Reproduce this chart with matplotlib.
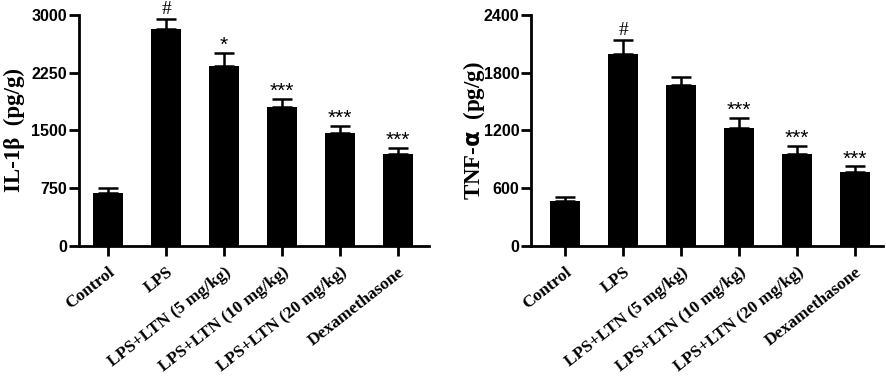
import numpy as np
import matplotlib
matplotlib.use("Agg")
import matplotlib.pyplot as plt

groups = ["Control", "LPS", "LPS+LTN (5 mg/kg)", "LPS+LTN (10 mg/kg)",
          "LPS+LTN (20 mg/kg)", "Dexamethasone"]

il1b_mean = [690, 2820, 2340, 1800, 1465, 1200]
il1b_err = [65, 130, 170, 110, 95, 75]
il1b_marks = ["", "#", "*", "***", "***", "***"]
il1b_ticks = [0, 750, 1500, 2250, 3000]

tnf_mean = [470, 1990, 1670, 1225, 960, 765]
tnf_err = [42, 150, 90, 105, 80, 62]
tnf_marks = ["", "#", "", "***", "***", "***"]
tnf_ticks = [0, 600, 1200, 1800, 2400]

SANS = "Liberation Sans"
SERIF = "Liberation Serif"


def draw_panel(ax, means, errs, marks, ticks, ylabel, xlim, label_x):
    x = np.arange(len(groups))
    ax.bar(x, means, width=0.51, color="black", zorder=2)
    ax.errorbar(x, means, yerr=[np.zeros(len(errs)), errs], fmt="none",
                ecolor="black", elinewidth=1.8, capsize=7, capthick=1.8, zorder=1)
    top = ticks[-1]
    for xi, m, e, s in zip(x, means, errs, marks):
        if not s:
            continue
        if s == "#":
            ax.text(xi, m + e + top * 0.004, s, ha="center", va="bottom",
                    fontsize=14, family=SERIF, zorder=3)
        else:
            ax.text(xi, m + e - top * 0.01, s, ha="center", va="bottom",
                    fontsize=15, family=SANS, zorder=3)

    ax.set_xlim(*xlim)
    ax.set_ylim(0, top)
    ax.set_yticks(ticks)
    ax.set_yticklabels([str(t) for t in ticks], family=SANS, fontweight="bold", fontsize=11.5)
    ax.set_xticks(x)
    ax.set_xticklabels(groups, rotation=38, ha="right", rotation_mode="anchor",
                       family=SERIF, fontweight="bold", fontsize=12.5)
    ax.set_ylabel(ylabel, family=SERIF, fontweight="bold", fontsize=16.5)
    ax.yaxis.set_label_coords(label_x, 0.5)
    ax.yaxis.label.set_va("center")

    for side in ["top", "right"]:
        ax.spines[side].set_visible(False)
    for side in ["left", "bottom"]:
        ax.spines[side].set_linewidth(2)
    ax.tick_params(axis="both", direction="out", length=7, width=2)
    ax.tick_params(axis="y", pad=1.5)
    ax.tick_params(axis="x", pad=6)


fig = plt.figure(figsize=(8.86, 3.79), dpi=100)
ax1 = fig.add_axes([0.0892, 0.351, 0.395, 0.6095])
ax2 = fig.add_axes([0.5993, 0.351, 0.397, 0.6095])

draw_panel(ax1, il1b_mean, il1b_err, il1b_marks, il1b_ticks,
           "IL-1\u03b2  (pg/g)", (-0.5, 5.53), -0.186)
draw_panel(ax2, tnf_mean, tnf_err, tnf_marks, tnf_ticks,
           "TNF-$\\mathbf{\\alpha}$  (pg/g)", (-0.59, 5.48), -0.162)

fig.savefig("out.png", dpi=100)
